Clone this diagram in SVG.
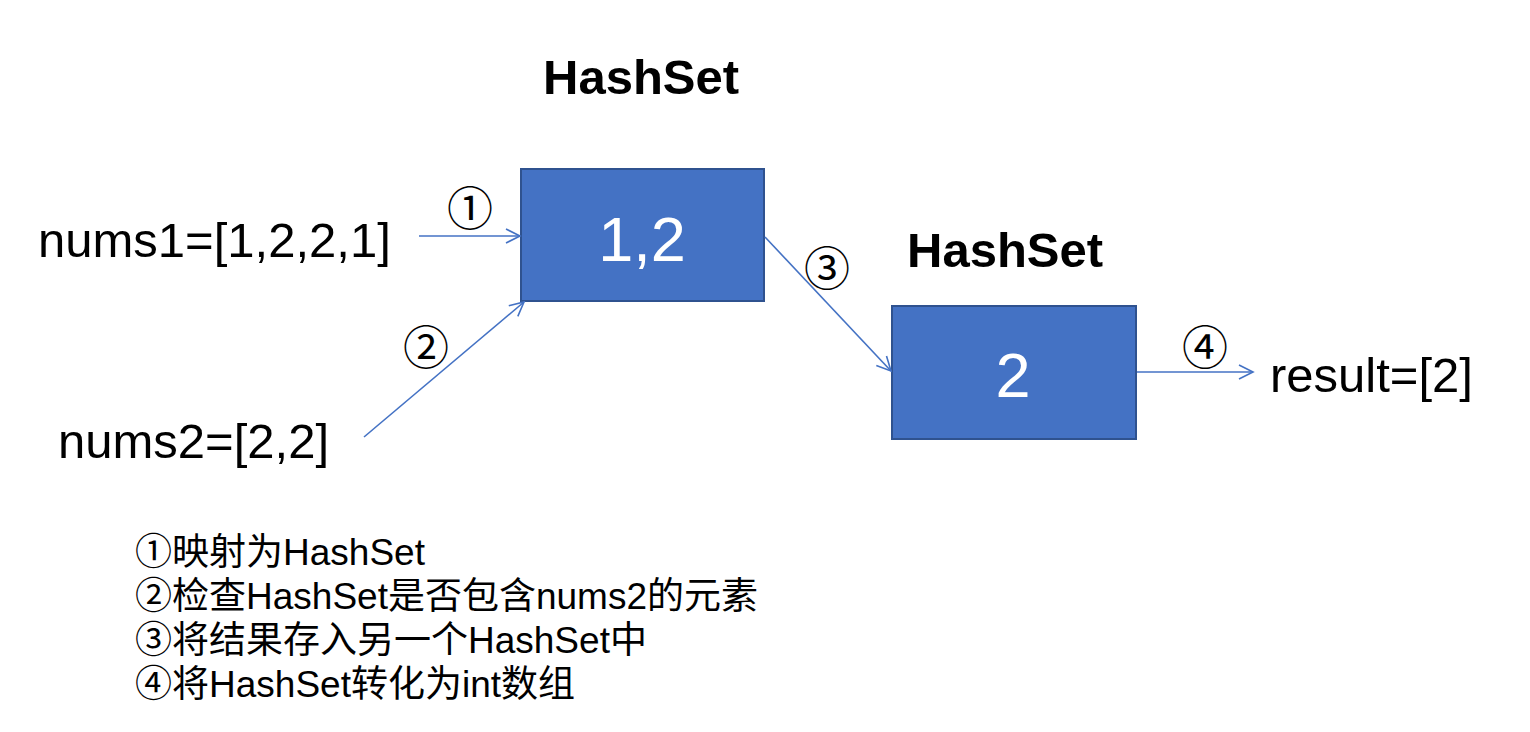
<svg xmlns="http://www.w3.org/2000/svg" width="1530" height="732" viewBox="0 0 1530 732">
<defs>
<style>
.box{fill:#4472C4;stroke:#2F528F;stroke-width:2}
.lbl{font-family:"Liberation Sans",Arial,sans-serif;font-size:49px;fill:#000}
.title{font-family:"Liberation Sans",Arial,sans-serif;font-size:49px;font-weight:bold;fill:#000}
.val{font-family:"Liberation Sans",Arial,sans-serif;font-size:63px;fill:#fff}
.num{font-family:"Noto Sans CJK SC",sans-serif;font-size:46px;fill:#000}
.legend{font-family:"Liberation Sans","Noto Sans CJK SC",sans-serif;font-size:37px;fill:#000}
.conn{stroke:#4472C4;stroke-width:1.6;fill:none}
</style>
<marker id="arr" markerUnits="userSpaceOnUse" markerWidth="18" markerHeight="18" viewBox="0 0 18 18" refX="16" refY="9" orient="auto">
<path d="M2,2 L16,9 L2,16" fill="none" stroke="#4472C4" stroke-width="1.6"/>
</marker>
</defs>
<rect width="1530" height="732" fill="#fff"/>
<g id="title1"><text class="title" x="543" y="94">HashSet</text></g>
<g id="title2"><text class="title" x="907" y="267">HashSet</text></g>
<g id="nums1"><text class="lbl" x="38" y="257">nums1=[1,2,2,1]</text></g>
<g id="nums2"><text class="lbl" x="58" y="458">nums2=[2,2]</text></g>
<g id="result"><text class="lbl" x="1270" y="392">result=[2]</text></g>
<g id="set1"><rect class="box" x="521" y="169" width="243" height="132"/><text class="val" x="642" y="261" text-anchor="middle">1,2</text></g>
<g id="set2"><rect class="box" x="892" y="306" width="244" height="133"/><text class="val" x="1013" y="397" text-anchor="middle">2</text></g>
<g id="connectors">
<line class="conn" x1="419" y1="236" x2="520" y2="236" marker-end="url(#arr)"/>
<line class="conn" x1="364" y1="437" x2="524" y2="302" marker-end="url(#arr)"/>
<line class="conn" x1="765" y1="237" x2="891" y2="371" marker-end="url(#arr)"/>
<line class="conn" x1="1137" y1="372" x2="1253" y2="372" marker-end="url(#arr)"/>
<text class="num" x="470" y="225" text-anchor="middle">①</text>
<text class="num" x="426" y="364" text-anchor="middle">②</text>
<text class="num" x="827" y="285" text-anchor="middle">③</text>
<text class="num" x="1205" y="364" text-anchor="middle">④</text>
</g>
<g id="legend">
<text class="legend" x="135" y="565">①映射为HashSet</text>
<text class="legend" x="135" y="609">②检查HashSet是否包含nums2的元素</text>
<text class="legend" x="135" y="653">③将结果存入另一个HashSet中</text>
<text class="legend" x="135" y="697">④将HashSet转化为int数组</text>
</g>
</svg>
